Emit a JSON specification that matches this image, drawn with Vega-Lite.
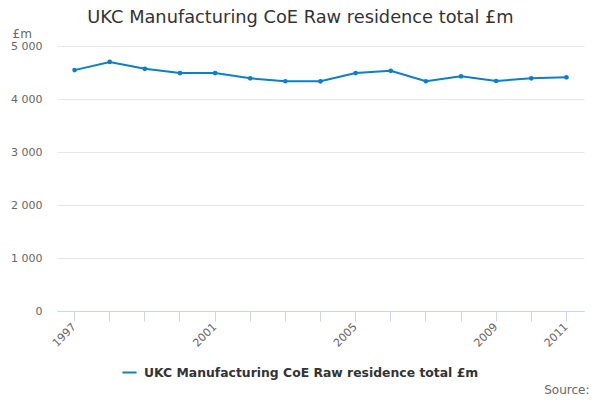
{
  "$schema": "https://vega.github.io/schema/vega-lite/v6.json",
  "autosize": "none",
  "width": 527,
  "height": 265,
  "padding": {"left": 57, "top": 46, "right": 16, "bottom": 89},
  "background": "white",
  "title": {"text": "UKC Manufacturing CoE Raw residence total £m", "font": "DejaVu Sans", "fontSize": 17.8, "fontWeight": "normal", "color": "#333333", "anchor": "middle", "dx": -20, "offset": 0},
  "data": {"values": [
    {"year": "1997", "value": 4545, "series": "UKC Manufacturing CoE Raw residence total £m"},
    {"year": "1998", "value": 4699, "series": "UKC Manufacturing CoE Raw residence total £m"},
    {"year": "1999", "value": 4569, "series": "UKC Manufacturing CoE Raw residence total £m"},
    {"year": "2000", "value": 4489, "series": "UKC Manufacturing CoE Raw residence total £m"},
    {"year": "2001", "value": 4490, "series": "UKC Manufacturing CoE Raw residence total £m"},
    {"year": "2002", "value": 4390, "series": "UKC Manufacturing CoE Raw residence total £m"},
    {"year": "2003", "value": 4335, "series": "UKC Manufacturing CoE Raw residence total £m"},
    {"year": "2004", "value": 4334, "series": "UKC Manufacturing CoE Raw residence total £m"},
    {"year": "2005", "value": 4489, "series": "UKC Manufacturing CoE Raw residence total £m"},
    {"year": "2006", "value": 4532, "series": "UKC Manufacturing CoE Raw residence total £m"},
    {"year": "2007", "value": 4335, "series": "UKC Manufacturing CoE Raw residence total £m"},
    {"year": "2008", "value": 4427, "series": "UKC Manufacturing CoE Raw residence total £m"},
    {"year": "2009", "value": 4340, "series": "UKC Manufacturing CoE Raw residence total £m"},
    {"year": "2010", "value": 4390, "series": "UKC Manufacturing CoE Raw residence total £m"},
    {"year": "2011", "value": 4409, "series": "UKC Manufacturing CoE Raw residence total £m"}
  ]},
  "mark": {"type": "line", "strokeWidth": 2, "point": {"filled": true, "size": 22}},
  "encoding": {
    "x": {"field": "year", "type": "ordinal", "scale": {"type": "band", "paddingInner": 0, "paddingOuter": 0},
      "axis": {"title": "Source:", "titleFont": "DejaVu Sans", "titleFontSize": 12, "titleFontWeight": "normal", "titleColor": "#666666",
        "titleAnchor": "end", "titleAlign": "right", "titleBaseline": "alphabetic", "titleX": 532, "titleY": 82,
        "labelExpr": "indexof(['1997','2001','2005','2009','2011'], datum.value) >= 0 ? datum.value : ''",
        "labelAngle": -45, "labelAlign": "right", "labelBaseline": "middle", "labelPadding": 4,
        "labelFont": "DejaVu Sans", "labelFontSize": 11, "labelColor": "#666666",
        "domainColor": "#ccd6eb", "tickColor": "#ccd6eb", "tickSize": 10, "grid": false}},
    "y": {"field": "value", "type": "quantitative", "scale": {"domain": [0, 5000], "nice": false},
      "axis": {"values": [0, 1000, 2000, 3000, 4000, 5000], "labelExpr": "replace(format(datum.value, ','), ',', ' ')",
        "title": "£m", "titleAngle": 0, "titleX": -45, "titleY": -9, "titleAlign": "left", "titleBaseline": "alphabetic",
        "titleFont": "DejaVu Sans", "titleFontSize": 12, "titleFontWeight": "normal", "titleColor": "#666666",
        "labelFont": "DejaVu Sans", "labelFontSize": 11, "labelColor": "#666666", "labelPadding": 15,
        "domain": false, "ticks": false, "grid": true, "gridColor": "#e6e6e6"}},
    "color": {"field": "series", "type": "nominal", "scale": {"range": ["#0b7fc7"]},
      "legend": {"title": null, "orient": "none", "legendX": 64, "legendY": 318, "symbolType": "stroke", "symbolSize": 200, "symbolStrokeWidth": 2, "labelOffset": 6,
        "labelFont": "DejaVu Sans", "labelFontSize": 12.4, "labelFontWeight": "bold", "labelColor": "#333333", "labelLimit": 500}}
  },
  "config": {"view": {"stroke": null}}
}
